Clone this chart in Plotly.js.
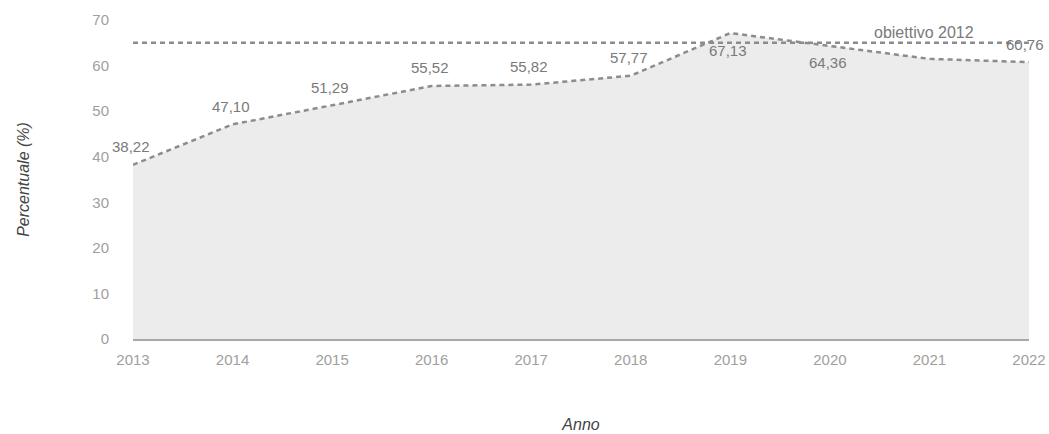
<!DOCTYPE html>
<html>
<head>
<meta charset="utf-8">
<script src="https://cdn.plot.ly/plotly-3.0.1.min.js"></script>
<style>html,body{margin:0;padding:0;background:#fff;}#chart{width:1049px;height:434px;}</style>
</head>
<body>
<div id="chart"></div>
<script>
var years = [2013, 2014, 2015, 2016, 2017, 2018, 2019, 2020, 2021, 2022];
var values = [38.22, 47.10, 51.29, 55.52, 55.82, 57.77, 67.13, 64.36, 61.47, 60.76];
var target = 65;
var targetLabel = 'obiettivo 2012';
var labelsBelow = [2019, 2020];
var labelsHidden = [2021];

var FONT = 'Liberation Sans, Arial, sans-serif';
var LINE = '#8c8c8c';

var data = [
  {
    x: years, y: values, type: 'scatter', mode: 'lines',
    fill: 'tozeroy', fillcolor: '#ececec',
    line: {color: LINE, width: 2.5, dash: '5px,4px'},
    hoverinfo: 'skip'
  },
  {
    x: [years[0], years[years.length-1]], y: [target, target], type: 'scatter', mode: 'lines',
    line: {color: LINE, width: 2.5, dash: '5px,4px'}, hoverinfo: 'skip'
  }
];

var annotations = [];
years.forEach(function(yr, i){
  if (labelsHidden.indexOf(yr) >= 0) return;
  var below = labelsBelow.indexOf(yr) >= 0;
  annotations.push({
    x: yr, y: values[i], xref: 'x', yref: 'y',
    text: values[i].toFixed(2).replace('.', ','),
    showarrow: false, yanchor: 'middle', xanchor: 'center',
    yshift: below ? -17 : 18, xshift: (i === years.length-1) ? -4 : -2,
    font: {family: FONT, size: 15, color: '#7a7a7a'}
  });
});
annotations.push({
  x: 2020.95, y: target, xref: 'x', yref: 'y', text: targetLabel, showarrow: false,
  yanchor: 'middle', yshift: 10,
  font: {family: FONT, size: 16, color: '#7a7a7a'}
});

var layout = {
  width: 1049, height: 434,
  margin: {l: 133, r: 20, t: 20, b: 95},
  paper_bgcolor: '#fff', plot_bgcolor: '#fff',
  showlegend: false,
  font: {family: FONT, color: '#999'},
  xaxis: {
    range: [years[0], years[years.length-1]], tickmode: 'array', tickvals: years,
    showgrid: false, zeroline: false, showline: true, linecolor: '#a8a8a8', linewidth: 1.5,
    ticks: 'outside', ticklen: 6, tickcolor: 'rgba(0,0,0,0)',
    tickfont: {size: 15, color: '#a0a0a0'},
    title: {text: 'Anno', standoff: 52, font: {size: 16, color: '#444', style: 'italic'}}
  },
  yaxis: {
    range: [0, 70], dtick: 10, showgrid: false, zeroline: false, showline: false,
    ticks: 'outside', ticklen: 20, tickcolor: 'rgba(0,0,0,0)',
    tickfont: {size: 15, color: '#a0a0a0'},
    title: {text: 'Percentuale (%)', standoff: 58, font: {size: 16, color: '#444', style: 'italic'}}
  },
  annotations: annotations
};

Plotly.newPlot('chart', data, layout, {displayModeBar: false, staticPlot: true});
</script>
</body>
</html>
